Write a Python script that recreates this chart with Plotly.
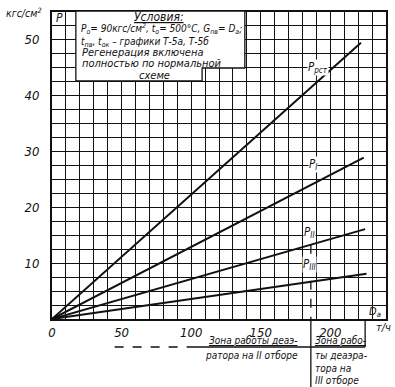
import plotly.graph_objects as go

# Data (flow D, t/h ; pressure P, kgf/cm2)
D_rst = [0, 222]
P_rst = [0, 49.5]
D_I = [0, 224]
P_I = [0, 28.9]
D_II = [0, 225]
P_II = [0, 16.1]
D_III = [0, 226]
P_III = [0, 8.1]

x_ticks = [0, 50, 100, 150, 200]
y_ticks = [10, 20, 30, 40, 50]
D_switch = 186  # boundary between deaerator zones

W, H = 395, 387
ML, MR, MT, MB = 52, 7, 12, 68
X_MAX, Y_MAX = 240, 55
PW, PH = W - ML - MR, H - MT - MB

def px(xp):
    return (xp - ML) / PW

def py(yp):
    return (H - MB - yp) / PH

FONT = "DejaVu Sans Condensed, Liberation Sans Narrow, DejaVu Sans"
INK = "#111"

fig = go.Figure()
for xs, ys in [(D_rst, P_rst), (D_I, P_I), (D_II, P_II), (D_III, P_III)]:
    fig.add_trace(go.Scatter(x=xs, y=ys, mode="lines",
                             line=dict(color=INK, width=2), showlegend=False,
                             hoverinfo="skip"))

shapes = []
# white box for conditions
shapes.append(dict(type="rect", xref="paper", yref="paper", x0=px(76), x1=px(246),
                   y0=py(68), y1=py(11), fillcolor="white", line=dict(width=0),
                   layer="above"))
shapes.append(dict(type="rect", xref="paper", yref="paper", x0=px(76), x1=px(203),
                   y0=py(81), y1=py(66), fillcolor="white", line=dict(width=0),
                   layer="above"))
box = [(76, 11), (246, 11), (246, 68), (203, 68), (203, 81), (76, 81), (76, 11)]
path = "M " + " L ".join(f"{px(a):.4f},{py(b):.4f}" for a, b in box)
shapes.append(dict(type="path", xref="paper", yref="paper", path=path,
                   line=dict(color=INK, width=1.3), layer="above"))
# dashed vertical from P_II down to axis
xs_paper = D_switch / X_MAX
y_top = P_II[1] / D_II[1] * D_switch
shapes.append(dict(type="line", xref="paper", yref="paper", x0=xs_paper, x1=xs_paper,
                   y0=y_top / Y_MAX, y1=0, line=dict(color=INK, width=1.3, dash="dash"),
                   layer="above"))
shapes.append(dict(type="line", xref="paper", yref="paper", x0=xs_paper, x1=xs_paper,
                   y0=0, y1=py(387), line=dict(color=INK, width=1.3)))
shapes.append(dict(type="line", xref="paper", yref="paper", x0=px(367), x1=px(367),
                   y0=0, y1=py(347), line=dict(color=INK, width=1.3)))
shapes.append(dict(type="line", xref="paper", yref="paper", x0=px(115), x1=px(195),
                   y0=py(347), y1=py(347), line=dict(color=INK, width=1.3, dash="dash")))
shapes.append(dict(type="line", xref="paper", yref="paper", x0=px(195), x1=px(367),
                   y0=py(347), y1=py(347), line=dict(color=INK, width=1.3)))

ann = []
def text(xp, yp, t, size=10.5, xanchor="left", bg=None):
    d = dict(xref="paper", yref="paper", x=px(xp), y=py(yp), text=t,
             showarrow=False, xanchor=xanchor, yanchor="middle",
             font=dict(family=FONT, size=size, color=INK, style="italic"))
    if bg:
        d["bgcolor"] = bg
        d["borderpad"] = 0
    ann.append(d)

text(160, 17, "<u>Условия:</u>", 12, "center")
text(79, 29, "P<sub>o</sub>= 90кгс/см<sup>2</sup>, t<sub>o</sub>= 500°C, G<sub>пв</sub>= D<sub>а</sub>;", 10)
text(79, 42, "t<sub>пв</sub>, t<sub>ок</sub> – графики Т-5а, Т-5б", 10)
text(80, 53, "Регенерация включена", 11)
text(80, 64, "полностью по нормальной", 11)
text(155, 75, "схеме", 11, "center")

text(24, 12, "кгс/см<sup>2</sup>", 10.5, "center")
text(60, 18, "P", 12, "center")
text(385, 327, "т/ч", 11, "center")
text(377, 312, "D<sub>а</sub>", 11, "center")

# line labels
text(320, 67, "P<sub>рст</sub>", 11.5, "center", "white")
text(315, 164, "P<sub>I</sub>", 11.5, "center", "white")
text(311, 232, "P<sub>II</sub>", 11.5, "center", "white")
text(311, 264, "P<sub>III</sub>", 11.5, "center", "white")

# zone texts
text(254, 340, "<u>Зона работы деаэ-</u>", 10, "center")
text(253, 355, "ратора на II отборе", 10, "center")
text(315, 340, "<u>Зона рабо-</u>", 10, "left")
text(315, 355, "ты деаэра-", 10, "left")
text(315, 368, "тора на", 10, "left")
text(315, 380, "III отборе", 10, "left")

fig.update_layout(
    width=W, height=H,
    margin=dict(l=ML, r=MR, t=MT, b=MB, pad=0),
    paper_bgcolor="white", plot_bgcolor="white",
    shapes=shapes, annotations=ann,
    xaxis=dict(range=[0, X_MAX], tickvals=x_ticks, ticks="", showgrid=True,
               gridcolor=INK, gridwidth=1.2, zeroline=False,
               showline=True, linecolor=INK, linewidth=2, mirror=True,
               tickfont=dict(family=FONT, size=13, color=INK, style="italic"),
               minor=dict(dtick=10, showgrid=True, gridcolor=INK, gridwidth=1.2),
               fixedrange=True),
    yaxis=dict(range=[0, Y_MAX], tickvals=y_ticks, ticks="", showgrid=True,
               gridcolor=INK, gridwidth=1.2, zeroline=False,
               showline=True, linecolor=INK, linewidth=2, mirror=True,
               tickfont=dict(family=FONT, size=13, color=INK, style="italic"),
               minor=dict(dtick=2.5, showgrid=True, gridcolor=INK, gridwidth=1.2),
               ticklabelstandoff=8, fixedrange=True),
)

fig.write_html("out.html", post_script="document.body.style.margin='0';",
               config={"displayModeBar": False})
